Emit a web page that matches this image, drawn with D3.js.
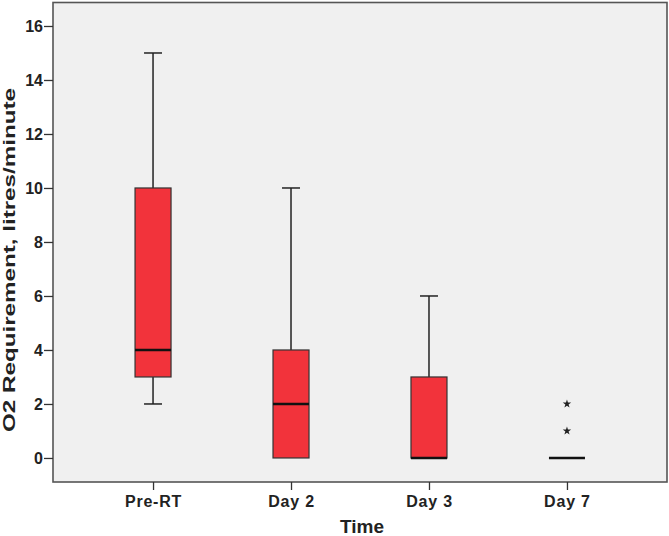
<!DOCTYPE html>
<html>
<head>
<meta charset="utf-8">
<script src="https://cdn.jsdelivr.net/npm/d3@7"></script>
<style>
  body { margin: 0; background: #fff; }
  svg { display: block; }
  .axis text { font-family: "Liberation Sans", Arial, sans-serif; font-weight: bold; font-size: 16px; fill: #222; }
  .axis path { display: none; }
  .axis line { stroke: #333; stroke-width: 1.3; }
  .xaxis text { letter-spacing: 0.8px; }
</style>
</head>
<body>
<svg id="chart" width="669" height="536"></svg>
<script>
// box plot stats
var groups   = ["Pre-RT", "Day 2", "Day 3", "Day 7"];
var lowWhisk = [2, 0, 0, 0];
var q1       = [3, 0, 0, 0];
var medians  = [4, 2, 0, 0];
var q3       = [10, 4, 3, 0];
var highWhisk= [15, 10, 6, 0];
var outliers = [[], [], [], [1, 2]];
var yTicks   = [0, 2, 4, 6, 8, 10, 12, 14, 16];

var svg = d3.select("#chart"),
    pLeft = 53, pRight = 667, pTop = 2.5, pBottom = 482;

var x = d3.scalePoint()
    .domain(groups)
    .range([pLeft, pRight])
    .padding(0.725);

var y = d3.scaleLinear()
    .domain([-0.89, 16.87])
    .range([pBottom, pTop]);

var boxW = 36, capW = 18;

svg.append("rect")
    .attr("x", pLeft).attr("y", pTop)
    .attr("width", pRight - pLeft).attr("height", pBottom - pTop)
    .attr("fill", "#f0f0f0");

var data = groups.map(function(g, i) {
  return {name: g, lo: lowWhisk[i], q1: q1[i], med: medians[i], q3: q3[i], hi: highWhisk[i], out: outliers[i]};
});

var box = svg.append("g").selectAll("g")
    .data(data)
    .enter().append("g");

// whiskers
box.filter(function(d) { return d.hi > d.q3; }).append("line")
    .attr("x1", function(d) { return x(d.name); })
    .attr("x2", function(d) { return x(d.name); })
    .attr("y1", function(d) { return y(d.q3); })
    .attr("y2", function(d) { return y(d.hi); })
    .attr("stroke", "#222").attr("stroke-width", 1.5);
box.filter(function(d) { return d.hi > d.q3; }).append("line")
    .attr("x1", function(d) { return x(d.name) - capW / 2; })
    .attr("x2", function(d) { return x(d.name) + capW / 2; })
    .attr("y1", function(d) { return y(d.hi); })
    .attr("y2", function(d) { return y(d.hi); })
    .attr("stroke", "#222").attr("stroke-width", 1.5);
box.filter(function(d) { return d.lo < d.q1; }).append("line")
    .attr("x1", function(d) { return x(d.name); })
    .attr("x2", function(d) { return x(d.name); })
    .attr("y1", function(d) { return y(d.q1); })
    .attr("y2", function(d) { return y(d.lo); })
    .attr("stroke", "#222").attr("stroke-width", 1.5);
box.filter(function(d) { return d.lo < d.q1; }).append("line")
    .attr("x1", function(d) { return x(d.name) - capW / 2; })
    .attr("x2", function(d) { return x(d.name) + capW / 2; })
    .attr("y1", function(d) { return y(d.lo); })
    .attr("y2", function(d) { return y(d.lo); })
    .attr("stroke", "#222").attr("stroke-width", 1.5);

// boxes
box.filter(function(d) { return d.q3 > d.q1; }).append("rect")
    .attr("x", function(d) { return x(d.name) - boxW / 2; })
    .attr("y", function(d) { return y(d.q3); })
    .attr("width", boxW)
    .attr("height", function(d) { return y(d.q1) - y(d.q3); })
    .attr("fill", "#f2333b")
    .attr("stroke", "#333").attr("stroke-width", 1.2);

// medians
box.append("line")
    .attr("x1", function(d) { return x(d.name) - boxW / 2; })
    .attr("x2", function(d) { return x(d.name) + boxW / 2; })
    .attr("y1", function(d) { return y(d.med); })
    .attr("y2", function(d) { return y(d.med); })
    .attr("stroke", "#111").attr("stroke-width", 2.5);

// outliers as stars
box.selectAll(".out")
    .data(function(d) { return d.out.map(function(v) { return {name: d.name, v: v}; }); })
    .enter().append("path")
    .attr("transform", function(d) { return "translate(" + x(d.name) + "," + y(d.v) + ")"; })
    .attr("d", d3.symbol().type(d3.symbolStar).size(22))
    .attr("fill", "#222");

// frame
svg.append("rect")
    .attr("x", pLeft).attr("y", pTop)
    .attr("width", pRight - pLeft).attr("height", pBottom - pTop)
    .attr("fill", "none")
    .attr("stroke", "#555").attr("stroke-width", 1.6);

svg.append("g")
    .attr("class", "axis")
    .attr("transform", "translate(" + pLeft + ",0)")
    .call(d3.axisLeft(y).tickValues(yTicks).tickSize(9).tickPadding(1));

svg.append("g")
    .attr("class", "axis xaxis")
    .attr("transform", "translate(0," + pBottom + ")")
    .call(d3.axisBottom(x).tickSize(8).tickPadding(6));

svg.append("text")
    .attr("transform", "translate(15," + ((88 + 432) / 2) + ") rotate(-90)")
    .attr("text-anchor", "middle")
    .attr("font-family", "Liberation Sans, Arial, sans-serif")
    .attr("font-weight", "bold")
    .attr("font-size", 17)
    .attr("textLength", 344)
    .attr("lengthAdjust", "spacingAndGlyphs")
    .attr("fill", "#222")
    .text("O2 Requirement, litres/minute");

svg.append("text")
    .attr("x", (pLeft + pRight) / 2 + 2)
    .attr("y", 533)
    .attr("text-anchor", "middle")
    .attr("font-family", "Liberation Sans, Arial, sans-serif")
    .attr("font-weight", "bold")
    .attr("font-size", 19)
    .attr("fill", "#222")
    .text("Time");
</script>
</body>
</html>
